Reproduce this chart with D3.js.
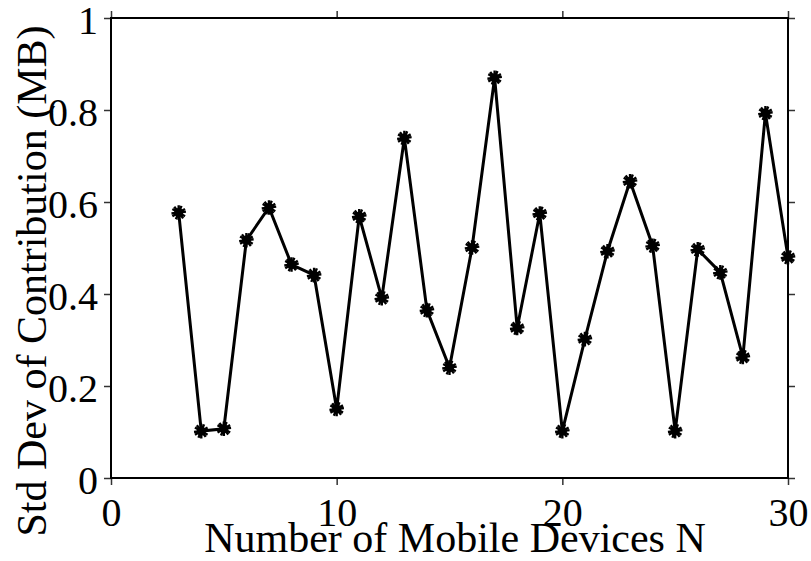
<!DOCTYPE html>
<html>
<head>
<meta charset="utf-8">
<script src="https://cdn.jsdelivr.net/npm/d3@7"></script>
<style>
  html, body { margin: 0; padding: 0; background: #fff; }
  svg { display: block; }
  text { font-family: "Liberation Serif", "Times New Roman", serif; fill: #000; }
</style>
</head>
<body>
<svg id="chart" width="811" height="561"></svg>
<script>
// Number of mobile devices N
const devices = [3, 4, 5, 6, 7, 8, 9, 10, 11, 12, 13, 14, 15, 16, 17, 18, 19, 20, 21, 22, 23, 24, 25, 26, 27, 28, 29, 30];
// Standard deviation of contribution (MB)
const stdDev = [0.577, 0.102, 0.107, 0.517, 0.588, 0.464, 0.441, 0.150, 0.569, 0.391,
                0.739, 0.365, 0.240, 0.501, 0.870, 0.326, 0.575, 0.102, 0.302, 0.493,
                0.645, 0.505, 0.102, 0.497, 0.447, 0.263, 0.793, 0.480];
const xTicks = [0, 10, 20, 30];
const yTicks = [0, 0.2, 0.4, 0.6, 0.8, 1];
const yTickLabels = ["0", "0.2", "0.4", "0.6", "0.8", "1"];
const xTitle = "Number of Mobile Devices N";
const yTitle = "Std Dev of Contribution (MB)";

const svg = d3.select("#chart");
const m = { left: 111, right: 788, top: 18, bottom: 478 };

const x = d3.scaleLinear().domain([0, 30]).range([m.left, m.right]);
const y = d3.scaleLinear().domain([0, 1]).range([m.bottom, m.top]);

const fontSize = 40;

// axes on all four sides, ticks pointing outward
const gB = svg.append("g").attr("transform", `translate(0,${m.bottom})`)
  .call(d3.axisBottom(x).tickValues(xTicks).tickSize(7).tickPadding(13).tickFormat(d3.format("d")));
const gT = svg.append("g").attr("transform", `translate(0,${m.top})`)
  .call(d3.axisTop(x).tickValues(xTicks).tickSize(7).tickFormat(""));
const gL = svg.append("g").attr("transform", `translate(${m.left},0)`)
  .call(d3.axisLeft(y).tickValues(yTicks).tickSize(7).tickPadding(6)
    .tickFormat((d, i) => yTickLabels[i]));
const gR = svg.append("g").attr("transform", `translate(${m.right},0)`)
  .call(d3.axisRight(y).tickValues(yTicks).tickSize(7).tickFormat(""));

[gB, gT, gL, gR].forEach(g => {
  g.select(".domain").remove();
  g.selectAll(".tick line").attr("stroke", "#333").attr("stroke-width", 1.5);
  g.selectAll(".tick text").style("font-size", fontSize + "px")
    .style("font-family", '"Liberation Serif", serif').attr("fill", "#000");
});
gL.selectAll(".tick text").attr("dy", "0.38em");

// plot frame
svg.append("rect")
  .attr("x", m.left).attr("y", m.top)
  .attr("width", m.right - m.left).attr("height", m.bottom - m.top)
  .attr("fill", "none").attr("stroke", "#000").attr("stroke-width", 2);

// data line
const line = d3.line().x((d, i) => x(devices[i])).y(d => y(d));
svg.append("path")
  .datum(stdDev)
  .attr("d", line)
  .attr("fill", "none")
  .attr("stroke", "#000")
  .attr("stroke-width", 3)
  .attr("stroke-linejoin", "miter");

// asterisk markers
const markers = svg.append("g").selectAll("g")
  .data(stdDev)
  .join("g")
  .attr("transform", (d, i) => `translate(${x(devices[i])},${y(d)})`);
markers.append("circle").attr("r", 4.6).attr("fill", "#000");
[0, 22.5].forEach(a => {
  markers.append("path")
    .attr("d", d3.symbol(d3.symbolAsterisk, 150)())
    .attr("transform", `rotate(${a})`)
    .attr("fill", "none").attr("stroke", "#000").attr("stroke-width", 2.4);
});

// axis titles
svg.append("text")
  .attr("x", 455).attr("y", 552)
  .attr("text-anchor", "middle")
  .style("font-size", "42px")
  .text(xTitle);
svg.append("text")
  .attr("transform", "translate(46,281) rotate(-90)")
  .attr("text-anchor", "middle")
  .style("font-size", "42px")
  .text(yTitle);
</script>
</body>
</html>
